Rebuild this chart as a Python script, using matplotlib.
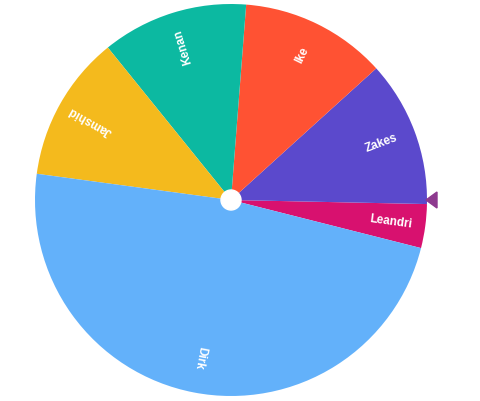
import numpy as np
import matplotlib
matplotlib.use("Agg")
import matplotlib.pyplot as plt
from matplotlib.patches import Circle, Polygon

names = ["Leandri", "Zakes", "Ike", "Kenan", "Jamshid", "Dirk"]
weights = [0.3, 1, 1, 1, 1, 4]
colors = ["#D8116F", "#5B49CC", "#FF5233", "#0CB9A1", "#F4BA1D", "#63B1FA"]

W, H = 480, 401
fig = plt.figure(figsize=(W / 100, H / 100), dpi=100)
ax = fig.add_axes([0, 0, 1, 1])

cx, cy, R = 231, 201, 196
wedges, _ = ax.pie(weights, colors=colors, startangle=-14.2, counterclock=True,
                   center=(cx, cy), radius=R, frame=True,
                   wedgeprops=dict(linewidth=0))
ax.set_xlim(0, W)
ax.set_ylim(0, H)
ax.set_aspect("equal")
ax.axis("off")

for w, name in zip(wedges, names):
    mid = (w.theta1 + w.theta2) / 2
    r = 0.82 * R
    x = cx + r * np.cos(np.radians(mid))
    y = cy + r * np.sin(np.radians(mid))
    ax.text(x, y, name, color="white", fontsize=8.5, fontweight="bold",
            family="Liberation Sans", rotation=mid, rotation_mode="anchor",
            ha="center", va="center")

ax.add_patch(Circle((cx, cy), 10, color="white", zorder=5))
ax.add_patch(Polygon([[426, cy], [437, cy + 8], [437, cy - 8]],
                     closed=True, color="#8E3A8F", zorder=6))

fig.savefig("out.png", dpi=100)
